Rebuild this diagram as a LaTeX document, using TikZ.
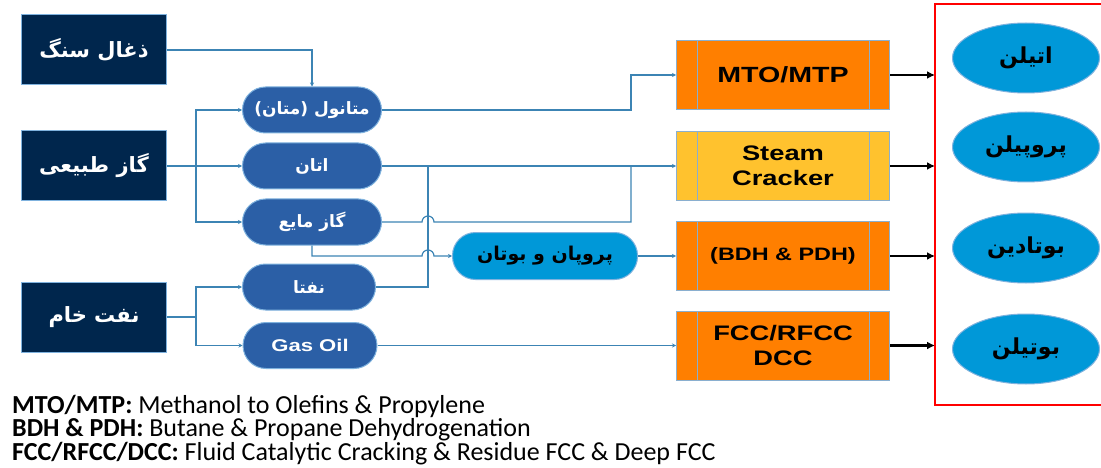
\documentclass[tikz,border=0pt]{standalone}
\usepackage{fontspec}
\setmainfont{Liberation Sans}
\newfontfamily\farsi[Script=Arabic]{DejaVu Sans}
\newfontfamily\wide[FakeStretch=1.3]{Liberation Sans}
\newfontfamily\notes{Carlito}
\TeXXeTstate=1
\usetikzlibrary{arrows.meta, positioning, shapes.geometric}
\definecolor{navy}{HTML}{00264D}
\definecolor{pill}{HTML}{2B5FA6}
\definecolor{sky}{HTML}{0098D8}
\definecolor{rim}{HTML}{7FB2DE}
\definecolor{wire}{HTML}{3C84B4}
\definecolor{plant}{HTML}{FF7F00}
\definecolor{steamc}{HTML}{FFC22E}
\definecolor{bar}{HTML}{8AAFCF}
\newcommand*{\fa}[1]{{\farsi\bfseries\beginR #1\endR}}

\begin{document}
\begin{tikzpicture}[x=1pt,y=1pt,>={Stealth[length=4pt,width=4pt]},
      source/.style={draw=rim,line width=1pt,fill=navy,text=white,minimum width=145pt,minimum height=70pt,font=\fontsize{21}{25}\selectfont},
      cut/.style={draw=rim,line width=1pt,fill=pill,text=white,rounded corners=23pt,minimum width=139pt,minimum height=46pt,font=\fontsize{17}{20}\selectfont},
      unit/.style={draw=bar,line width=1pt,fill=plant,minimum width=213pt,minimum height=69pt,align=center,font=\wide\bfseries\fontsize{22}{26}\selectfont,
        path picture={\draw[bar,line width=1pt] ([xshift=21pt]path picture bounding box.north west) -- ([xshift=21pt]path picture bounding box.south west)
          ([xshift=-20pt]path picture bounding box.north east) -- ([xshift=-20pt]path picture bounding box.south east);}},
      product/.style={ellipse,draw=rim,line width=1pt,fill=sky,minimum width=147pt,minimum height=70pt,font=\fontsize{22}{26}\selectfont},
      feed/.style={wire,line width=1.2pt},
      toprod/.style={black,line width=2.2pt,-{Latex[length=8pt,width=8pt]}},
      note/.style={anchor=west,inner sep=0pt,font=\notes\fontsize{26}{28}\selectfont}]
      \useasboundingbox (0,0) rectangle (1101,-468);
      \node[source] (coal) at (94,-50) {\fa{ذغال سنگ}};
      \node[source] (gas) at (94,-166) {\fa{گاز طبیعی}};
      \node[source] (crude) at (94,-317) {\fa{نفت خام}};
      \node[cut] (methanol) at (312,-110) {\fa{متانول (متان)}};
      \node[cut] (ethane) at (312,-166) {\fa{اتان}};
      \node[cut] (lpg) at (312,-222) {\fa{گاز مایع}};
      \node[cut,minimum width=133pt] (naphtha) at (309,-287) {\fa{نفتا}};
      \node[cut,minimum width=134pt,font=\wide\bfseries\fontsize{17}{20}\selectfont] (gasoil) at (310,-345.5) {Gas Oil};
      \node[cut,fill=sky,text=black,minimum width=185pt,minimum height=47pt,font=\fontsize{19}{22}\selectfont] (propbut) at (545,-256) {\fa{پروپان و بوتان}};
      \node[unit] (mto) at (783,-75) {MTO/MTP};
      \node[unit,fill=steamc,font=\wide\bfseries\fontsize{21}{25}\selectfont] (steam) at (783,-166) {Steam\\Cracker};
      \node[unit,font=\wide\bfseries\fontsize{18}{22}\selectfont] (dh) at (783,-256) {(BDH \& PDH)};
      \node[unit,font=\wide\bfseries\fontsize{21}{25}\selectfont] (fcc) at (783,-345.5) {FCC/RFCC\\DCC};
      \node[product] (ethylene) at (1026,-58) {\fa{اتیلن}};
      \node[product] (propylene) at (1026,-147) {\fa{پروپیلن}};
      \node[product] (butadiene) at (1026,-248) {\fa{بوتادین}};
      \node[product] (butylene) at (1026,-349) {\fa{بوتیلن}};
      \coordinate (gasfork) at (196,-166);
      \coordinate (crudefork) at (196,-317);
      \coordinate (riser) at (631,0);
      \coordinate (nriser) at (428,0);
      \coordinate (frame) at (935,-4);
      \draw[feed,->] (coal.east) -| (methanol.north);
      \draw[feed,->] (gas.east) -- (ethane.west);
      \draw[feed,<->] (methanol.west) -| (gasfork) |- (lpg.west);
      \draw[feed] (crude.east) -- (crudefork);
      \draw[feed,<->] (naphtha.west) -| (crudefork) |- (gasoil.west);
      \draw[feed,->] (methanol.east) -- (methanol.east -| riser) |- (mto.west);
      \draw[feed,->] (ethane.east) -- (steam.west);
      \draw[feed] (lpg.east) -- (422,-222) arc[start angle=180,end angle=0,radius=6pt] -- (lpg.east -| riser) -- (riser |- steam.west);
      \draw[feed,->] (lpg.south) |- (422,-256) arc[start angle=180,end angle=0,radius=6pt] -- (propbut.west);
      \draw[feed] (naphtha.east) -| (nriser |- ethane.east);
      \draw[feed,->] (propbut.east) -- (dh.west);
      \draw[feed,->] (gasoil.east) -- (fcc.west);
      \foreach \u in {mto,steam,dh,fcc}
        \draw[toprod] (\u.east) -- (\u.east -| frame);
      \draw[red,line width=1.2pt] (1102,-4) -- (frame) -- (935,-405) -- (1102,-405);
      \node[note] (note1) at (12,-406) {\textbf{MTO/MTP:} Methanol to Olefins \& Propylene};
      \node[note] (note2) at (12,-430) {\textbf{BDH \& PDH:} Butane \& Propane Dehydrogenation};
      \node[note] (note3) at (12,-454) {\textbf{FCC/RFCC/DCC:} Fluid Catalytic Cracking \& Residue FCC \& Deep FCC};
    \end{tikzpicture}
\end{document}
